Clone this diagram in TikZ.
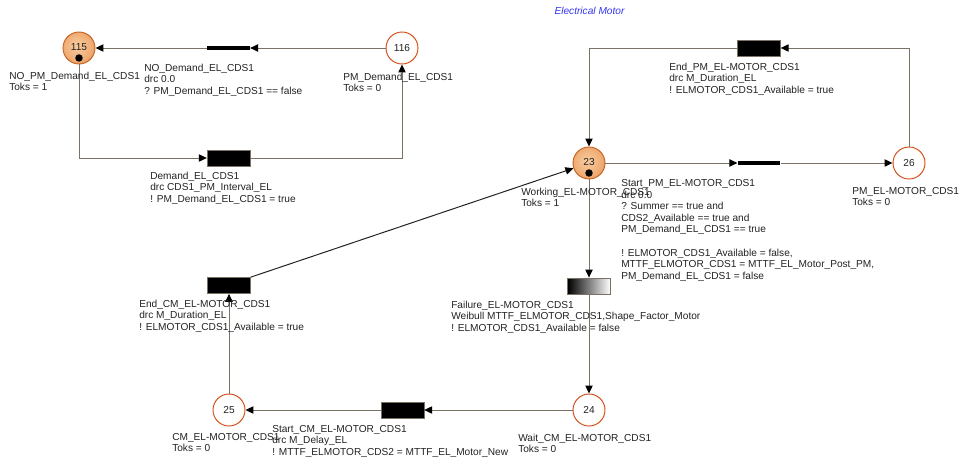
\documentclass[tikz,border=0pt]{standalone}
\usepackage{fontspec}
\setmainfont{Liberation Sans}
\usepackage{tikz}
\usepackage{xcolor}
\usetikzlibrary{arrows.meta,positioning,shapes,calc}
\definecolor{ink}{HTML}{222222}
\definecolor{arcgray}{HTML}{7A7264}
\definecolor{orlight}{HTML}{F9CDA0}
\definecolor{ordark}{HTML}{E07A32}
\definecolor{orborder}{HTML}{C4621F}
\definecolor{plborder}{HTML}{D24A18}
\definecolor{plcream}{HTML}{FDEFC2}
\definecolor{titleblue}{HTML}{3434F0}
\pgfdeclareradialshading{markedshade}{\pgfpoint{-4bp}{4bp}}{color(0bp)=(orlight); color(22bp)=(orlight!60!ordark); color(40bp)=(ordark); color(50bp)=(ordark)}
\pgfdeclareradialshading{emptyshade}{\pgfpoint{-6bp}{2bp}}{color(0bp)=(white); color(20bp)=(white); color(42bp)=(plcream); color(50bp)=(plcream)}
\tikzset{
  pnode/.style={circle,draw=plborder,line width=0.7pt,shading=emptyshade,
                minimum size=24pt,inner sep=0pt,font=\fontsize{7.6}{8.7}\selectfont,text=ink},
  pmarked/.style={pnode,draw=orborder,shading=markedshade,
                  path picture={\fill[black] ([yshift=-7.5pt]path picture bounding box.center) circle (2.8pt);}},
  tbox/.style={draw=arcgray,fill=black,line width=0.5pt,
               minimum width=32pt,minimum height=12pt,inner sep=0pt},
  tbar/.style={fill=black,minimum width=32pt,minimum height=3pt,inner sep=0pt},
  tfail/.style={draw=arcgray,line width=0.6pt,left color=black,right color=white,
                minimum width=32pt,minimum height=12pt,inner sep=0pt},
  lbl/.style={anchor=base west,align=left,inner sep=0pt,text=ink,
              font=\fontsize{7.6}{8.7}\selectfont},
  arc/.style={-{Triangle[length=6pt,width=5.5pt,color=black]},line width=0.75pt,color=arcgray}
}
\begin{document}
\begin{tikzpicture}[x=0.75pt,y=-0.75pt]
  \useasboundingbox (0,0) rectangle (966,464);
  \node[font=\fontsize{7.6}{8.7}\selectfont\itshape,text=titleblue] (title) at (589.5,11) {Electrical Motor};

  \node[pmarked] (p115) at (79,48) {\raisebox{1.5pt}{115}};
  \node[pnode] (p116) at (402,48) {116};
  \node[pmarked] (p23) at (589,163) {\raisebox{1.5pt}{23}};
  \node[pnode] (p26) at (909,163) {26};
  \node[pnode] (p24) at (589,410) {24};
  \node[pnode] (p25) at (229,410) {25};

  \node[tbar] (tnodem) at (228.5,48) {};
  \node[tbox] (tdem) at (228.5,158) {};
  \node[tbox] (tepm) at (759,48) {};
  \node[tbar] (tspm) at (759,163) {};
  \node[tfail] (tfail) at (589,286) {};
  \node[tbox] (tecm) at (229,285.5) {};
  \node[tbox] (tscm) at (402.5,410) {};

  \draw[arc] (p116) -- (tnodem);
  \draw[arc] (tnodem) -- (p115);
  \draw[arc] (p115) |- (tdem);
  \draw[arc] (tdem) -| (p116);
  \draw[arc] (p23) -- (tspm);
  \draw[arc] (tspm) -- (p26);
  \draw[arc] (p26) |- (tepm);
  \draw[arc] (tepm) -| (p23);
  \draw[arc] (p23) -- (tfail);
  \draw[arc] (tfail) -- (p24);
  \draw[arc] (p24) -- (tscm);
  \draw[arc] (tscm) -- (p25);
  \draw[arc] (p25) -- (tecm);
  \draw[arc,color=ink] (tecm.north east) -- (p23);

  \node[lbl] (l115) at (9,90.6) {NO\_PM\_Demand\_EL\_CDS1\\Toks = 1};
  \node[lbl] (lnodem) at (144,94.2) {NO\_Demand\_EL\_CDS1\\drc 0.0\\? PM\_Demand\_EL\_CDS1 == false};
  \node[lbl] (l116) at (343,91.6) {PM\_Demand\_EL\_CDS1\\Toks = 0};
  \node[lbl] (ldem) at (150,202.2) {Demand\_EL\_CDS1\\drc CDS1\_PM\_Interval\_EL\\! PM\_Demand\_EL\_CDS1 = true};
  \node[lbl] (lepm) at (669,93.2) {End\_PM\_EL-MOTOR\_CDS1\\drc M\_Duration\_EL\\! ELMOTOR\_CDS1\_Available = true};
  \node[lbl] (l23) at (521,206.6) {Working\_EL-MOTOR\_CDS1\\Toks = 1};
  \node[lbl] (lspm) at (621,279.3) {Start\_PM\_EL-MOTOR\_CDS1\\drc 0.0\\? Summer == true and\\CDS2\_Available == true and\\PM\_Demand\_EL\_CDS1 == true\\[8.7pt]! ELMOTOR\_CDS1\_Available = false,\\MTTF\_ELMOTOR\_CDS1 = MTTF\_EL\_Motor\_Post\_PM,\\PM\_Demand\_EL\_CDS1 = false};
  \node[lbl] (l26) at (852,205.6) {PM\_EL-MOTOR\_CDS1\\Toks = 0};
  \node[lbl] (lfail) at (451,331.2) {Failure\_EL-MOTOR\_CDS1\\Weibull MTTF\_ELMOTOR\_CDS1,Shape\_Factor\_Motor\\! ELMOTOR\_CDS1\_Available = false};
  \node[lbl] (lecm) at (139,330.2) {End\_CM\_EL-MOTOR\_CDS1\\drc M\_Duration\_EL\\! ELMOTOR\_CDS1\_Available = true};
  \node[lbl] (l25) at (172,451.6) {CM\_EL-MOTOR\_CDS1\\Toks = 0};
  \node[lbl] (lscm) at (272,455.2) {Start\_CM\_EL-MOTOR\_CDS1\\drc M\_Delay\_EL\\! MTTF\_ELMOTOR\_CDS2 = MTTF\_EL\_Motor\_New};
  \node[lbl] (l24) at (518,452.6) {Wait\_CM\_EL-MOTOR\_CDS1\\Toks = 0};
\end{tikzpicture}
\end{document}
